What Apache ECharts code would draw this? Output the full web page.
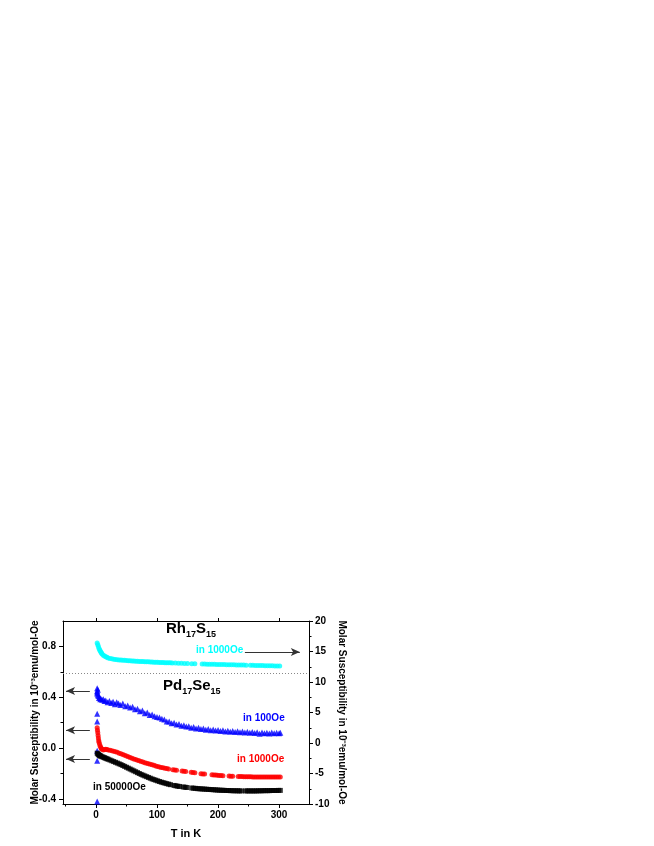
<!DOCTYPE html>
<html>
<head>
<meta charset="utf-8">
<script src="https://cdn.jsdelivr.net/npm/echarts@6/dist/echarts.min.js"></script>
<style>
  html, body { margin: 0; padding: 0; background: #fff; }
  #main { width: 654px; height: 846px; }
</style>
</head>
<body>
<div id="main"></div>
<script>
// Rh17S15 in 1000Oe (right axis, 10^-3 emu/mol-Oe)
var rhData = [[2,16.4],[3,16.1],[4,15.8],[5,15.5],[6,15.3],[7,15.1],[8,14.9],[9,14.75],[10,14.6],[12,14.4],[14,14.25],[16,14.15],[18,14.05],[20,13.95],[23,13.85],[26,13.8],[29,13.75],[32,13.7],[35,13.65],[38,13.62],[41,13.6],[44,13.57],[47,13.55],[50,13.52],[53,13.5],[56,13.48],[59,13.46],[62,13.44],[65,13.42],[68,13.4],[71,13.38],[74,13.36],[77,13.35],[80,13.33],[83,13.31],[86,13.3],[89,13.28],[92,13.27],[95,13.25],[98,13.24],[101,13.22],[104,13.21],[107,13.2],[110,13.18],[113,13.17],[116,13.16],[119,13.15],[122,13.14],[125,13.12],[130,13.1],[135,13.08],[140,13.06],[145,13.04],[150,13.02],[157,13.0],[162,12.98],[174,12.95],[178,12.94],[182,12.93],[186,12.92],[190,12.9],[194,12.89],[198,12.88],[202,12.87],[206,12.86],[210,12.85],[214,12.84],[218,12.83],[222,12.82],[226,12.81],[230,12.8],[234,12.79],[238,12.78],[242,12.77],[246,12.76],[253,12.74],[257,12.73],[261,12.72],[265,12.71],[269,12.7],[273,12.69],[277,12.68],[281,12.67],[285,12.66],[289,12.65],[293,12.64],[297,12.63],[301,12.62]];

// Pd17Se15 in 100Oe (left axis)
var pd100Data = [[2,0.47],[2,0.45],[2,0.43],[2,0.27],[2,0.21],[2,-0.02],[2,-0.1],[2,-0.42],[2,0.44],[3,0.46],[3,0.42],[4,0.41],[5,0.395],[6,0.40],[7,0.385],[8,0.39],[10,0.38],[12,0.385],[14,0.37],[16,0.375],[19,0.36],[22,0.37],[25,0.355],[28,0.365],[31,0.345],[34,0.36],[37,0.35],[40,0.34],[44,0.35],[48,0.33],[52,0.335],[56,0.32],[60,0.325],[64,0.305],[68,0.31],[72,0.29],[76,0.295],[80,0.275],[84,0.28],[88,0.26],[92,0.265],[96,0.25],[100,0.245],[104,0.24],[108,0.23],[112,0.225],[116,0.21],[120,0.21],[124,0.195],[128,0.2],[132,0.185],[136,0.19],[140,0.175],[144,0.18],[148,0.17],[152,0.172],[156,0.16],[160,0.165],[164,0.155],[168,0.16],[172,0.15],[176,0.155],[180,0.145],[184,0.15],[188,0.14],[192,0.147],[196,0.138],[200,0.142],[204,0.135],[208,0.14],[212,0.13],[216,0.137],[220,0.128],[224,0.134],[228,0.126],[232,0.132],[236,0.124],[240,0.13],[244,0.122],[248,0.128],[252,0.12],[256,0.126],[260,0.118],[264,0.124],[268,0.112],[272,0.122],[276,0.117],[280,0.121],[284,0.115],[288,0.122],[292,0.116],[296,0.121],[300,0.117],[302,0.12]];

// Pd17Se15 in 1000Oe
var pd1000Data = [[2,0.16],[2.5,0.14],[3,0.12],[3.5,0.10],[4,0.08],[4.5,0.06],[5,0.045],[6,0.03],[7,0.015],[8,0.005],[9,-0.005],[10,-0.01],[12,-0.015],[14,-0.012],[16,-0.01],[18,-0.012],[20,-0.015],[23,-0.018],[26,-0.02],[29,-0.024],[32,-0.028],[35,-0.033],[38,-0.04],[41,-0.045],[44,-0.05],[47,-0.056],[50,-0.062],[53,-0.068],[56,-0.074],[59,-0.08],[62,-0.085],[65,-0.09],[68,-0.096],[71,-0.1],[74,-0.105],[77,-0.11],[80,-0.115],[83,-0.12],[86,-0.124],[89,-0.128],[92,-0.132],[95,-0.136],[98,-0.14],[101,-0.144],[104,-0.148],[107,-0.152],[110,-0.155],[113,-0.158],[116,-0.161],[119,-0.164],[126,-0.17],[129,-0.172],[132,-0.174],[141,-0.181],[144,-0.183],[147,-0.185],[156,-0.191],[159,-0.193],[162,-0.195],[172,-0.201],[175,-0.203],[178,-0.204],[190,-0.21],[193,-0.211],[196,-0.212],[199,-0.214],[202,-0.215],[205,-0.216],[208,-0.217],[218,-0.22],[221,-0.221],[224,-0.222],[233,-0.223],[236,-0.224],[239,-0.224],[242,-0.225],[245,-0.225],[248,-0.226],[251,-0.226],[254,-0.226],[257,-0.227],[260,-0.227],[263,-0.227],[266,-0.227],[269,-0.228],[272,-0.228],[275,-0.228],[278,-0.228],[281,-0.228],[284,-0.228],[287,-0.228],[290,-0.228],[293,-0.228],[296,-0.228],[299,-0.227],[302,-0.227]];

// Pd17Se15 in 50000Oe
var pd50000Data = [[2,-0.04],[3,-0.045],[4,-0.05],[5,-0.055],[6,-0.058],[7,-0.061],[8,-0.064],[10,-0.068],[12,-0.072],[14,-0.076],[16,-0.08],[18,-0.084],[20,-0.088],[23,-0.094],[26,-0.1],[29,-0.106],[32,-0.112],[35,-0.118],[38,-0.124],[41,-0.13],[44,-0.137],[47,-0.144],[50,-0.151],[53,-0.158],[56,-0.165],[59,-0.172],[62,-0.179],[65,-0.186],[68,-0.193],[71,-0.2],[74,-0.207],[77,-0.213],[80,-0.219],[83,-0.225],[86,-0.231],[89,-0.237],[92,-0.243],[95,-0.248],[98,-0.253],[101,-0.258],[104,-0.263],[107,-0.268],[110,-0.272],[113,-0.276],[116,-0.28],[119,-0.284],[122,-0.288],[128,-0.294],[131,-0.297],[134,-0.3],[137,-0.302],[143,-0.306],[146,-0.308],[149,-0.31],[157,-0.314],[160,-0.316],[163,-0.317],[166,-0.319],[169,-0.32],[172,-0.321],[175,-0.322],[178,-0.323],[181,-0.324],[184,-0.325],[187,-0.326],[190,-0.327],[193,-0.328],[196,-0.329],[199,-0.33],[202,-0.331],[205,-0.332],[208,-0.332],[211,-0.333],[214,-0.334],[217,-0.334],[220,-0.335],[223,-0.335],[226,-0.336],[229,-0.336],[232,-0.336],[235,-0.337],[238,-0.337],[245,-0.337],[248,-0.337],[251,-0.337],[254,-0.337],[257,-0.337],[260,-0.337],[263,-0.337],[266,-0.336],[269,-0.336],[272,-0.336],[275,-0.335],[278,-0.335],[281,-0.335],[284,-0.335],[287,-0.334],[290,-0.334],[293,-0.334],[296,-0.334],[299,-0.333],[302,-0.333]];

var xMajor = [0, 100, 200, 300];
var xMinor = [-50, 50, 150, 250];
var leftMajor = [-0.4, 0.0, 0.4, 0.8];
var leftMinor = [-0.2, 0.2, 0.6];

var FONT = "'Liberation Sans', Arial, sans-serif";
var yTitle = 'Molar Susceptibility in 10\u207B\u00B3emu/mol-Oe';

var chart = echarts.init(document.getElementById('main'));

var arrowLine = { color: '#333', width: 1, type: 'solid' };
var boxLine = { show: true, onZero: false, lineStyle: { color: '#000', width: 1 } };

function arrow(x1, y1, x2, y2) {
    return [
        { coord: [x1, y1], symbol: 'none' },
        { coord: [x2, y2], symbol: 'arrow', symbolSize: [6, 9] }
    ];
}

var option = {
    animation: false,
    backgroundColor: '#fff',
    grid: { left: 63, right: 345, top: 621, bottom: 42 },
    xAxis: [
        {
            type: 'value', position: 'bottom', min: -54, max: 349,
            name: 'T in K', nameLocation: 'middle', nameGap: 24, nameMoveOverlap: false,
            nameTextStyle: { fontFamily: FONT, fontWeight: 'bold', fontSize: 11, color: '#000' },
            axisLine: boxLine,
            axisTick: { show: true, customValues: xMajor, length: 4, lineStyle: { color: '#000' } },
            axisLabel: { customValues: xMajor, margin: 6, fontFamily: FONT, fontWeight: 'bold', fontSize: 10, color: '#000' },
            splitLine: { show: false }
        },
        {
            type: 'value', position: 'bottom', min: -54, max: 349,
            axisLine: { show: false, onZero: false },
            axisTick: { show: true, customValues: xMinor, length: 2.5, lineStyle: { color: '#000' } },
            axisLabel: { show: false },
            splitLine: { show: false }
        },
        {
            type: 'value', position: 'top', min: -54, max: 349,
            axisLine: boxLine,
            axisTick: { show: true, customValues: xMajor, length: 3, lineStyle: { color: '#000' } },
            axisLabel: { show: false },
            splitLine: { show: false }
        }
    ],
    yAxis: [
        {
            type: 'value', position: 'left', min: -0.44, max: 1.0,
            name: yTitle, nameLocation: 'middle', nameGap: 23, nameRotate: 90, nameMoveOverlap: false,
            nameTextStyle: { fontFamily: FONT, fontWeight: 'bold', fontSize: 10, color: '#000' },
            axisLine: boxLine,
            axisTick: { show: true, customValues: leftMajor, length: 4, lineStyle: { color: '#000' } },
            axisLabel: { customValues: leftMajor, margin: 7, fontFamily: FONT, fontWeight: 'bold', fontSize: 10, color: '#000',
                formatter: function (v) { return v.toFixed(1); } },
            splitLine: { show: false }
        },
        {
            type: 'value', position: 'right', min: -10, max: 20, interval: 5,
            name: yTitle, nameLocation: 'middle', nameGap: 28, nameRotate: -90, nameMoveOverlap: false,
            nameTextStyle: { fontFamily: FONT, fontWeight: 'bold', fontSize: 10, color: '#000' },
            axisLine: boxLine,
            axisTick: { show: true, length: 4, lineStyle: { color: '#000' } },
            minorTick: { show: true, splitNumber: 2, length: 2.5, lineStyle: { color: '#000' } },
            axisLabel: { margin: 6, fontFamily: FONT, fontWeight: 'bold', fontSize: 10, color: '#000' },
            splitLine: { show: false }
        },
        {
            type: 'value', position: 'left', min: -0.44, max: 1.0,
            axisLine: { show: false, onZero: false },
            axisTick: { show: true, customValues: leftMinor, length: 2.5, lineStyle: { color: '#000' } },
            axisLabel: { show: false },
            splitLine: { show: false }
        }
    ],
    series: [
        {
            name: 'Rh17S15 1000Oe', type: 'scatter', yAxisIndex: 1,
            data: rhData, symbol: 'circle', symbolSize: 5,
            itemStyle: { color: '#00ffff' },
            markLine: {
                silent: true, animation: false, label: { show: false },
                lineStyle: arrowLine,
                data: [arrow(244, 14.9, 334, 14.9)]
            }
        },
        {
            name: 'Pd17Se15 100Oe', type: 'scatter',
            data: pd100Data, symbol: 'triangle', symbolSize: 6,
            itemStyle: { color: '#0000ff' },
            markLine: {
                silent: true, animation: false, label: { show: false }, symbol: 'none',
                lineStyle: arrowLine,
                data: [
                    [{ coord: [-54, 0.59], symbol: 'none', lineStyle: { color: '#888', type: [1, 2], width: 1 } },
                     { coord: [349, 0.59], symbol: 'none' }],
                    arrow(-10, 0.45, -49, 0.45)
                ]
            }
        },
        {
            name: 'Pd17Se15 1000Oe', type: 'scatter',
            data: pd1000Data, symbol: 'circle', symbolSize: 5,
            itemStyle: { color: '#ff0000' },
            markLine: {
                silent: true, animation: false, label: { show: false },
                lineStyle: arrowLine,
                data: [arrow(-10, 0.14, -49, 0.14)]
            }
        },
        {
            name: 'Pd17Se15 50000Oe', type: 'scatter',
            data: pd50000Data, symbol: 'rect', symbolSize: 5,
            itemStyle: { color: '#000000' },
            markLine: {
                silent: true, animation: false, label: { show: false },
                lineStyle: arrowLine,
                data: [arrow(-10, -0.085, -49, -0.085)]
            }
        }
    ],
    graphic: [
        {
            type: 'text', left: 166, top: 621,
            style: {
                text: '{b|Rh}{s|17}{b|S}{s|15}',
                rich: {
                    b: { fontFamily: FONT, fontWeight: 'bold', fontSize: 15, lineHeight: 22, verticalAlign: 'middle', fill: '#000' },
                    s: { fontFamily: FONT, fontWeight: 'bold', fontSize: 9, lineHeight: 9, verticalAlign: 'bottom', fill: '#000' }
                }
            }
        },
        {
            type: 'text', left: 163, top: 678,
            style: {
                text: '{b|Pd}{s|17}{b|Se}{s|15}',
                rich: {
                    b: { fontFamily: FONT, fontWeight: 'bold', fontSize: 15, lineHeight: 22, verticalAlign: 'middle', fill: '#000' },
                    s: { fontFamily: FONT, fontWeight: 'bold', fontSize: 9, lineHeight: 9, verticalAlign: 'bottom', fill: '#000' }
                }
            }
        },
        { type: 'text', left: 196, top: 645, style: { text: 'in 1000Oe', fontFamily: FONT, fontWeight: 'bold', fontSize: 10, fill: '#00ffff' } },
        { type: 'text', left: 243, top: 713, style: { text: 'in 100Oe', fontFamily: FONT, fontWeight: 'bold', fontSize: 10, fill: '#0000ff' } },
        { type: 'text', left: 237, top: 754, style: { text: 'in 1000Oe', fontFamily: FONT, fontWeight: 'bold', fontSize: 10, fill: '#ff0000' } },
        { type: 'text', left: 93, top: 782, style: { text: 'in 50000Oe', fontFamily: FONT, fontWeight: 'bold', fontSize: 10, fill: '#000' } }
    ]
};

chart.setOption(option);
</script>
</body>
</html>
